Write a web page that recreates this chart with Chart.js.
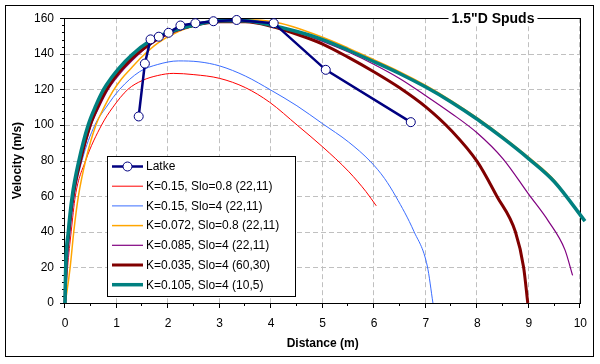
<!DOCTYPE html>
<html>
<head>
<meta charset="utf-8">
<script src="https://cdn.jsdelivr.net/npm/chart.js@4"></script>
<style>
  body { margin: 0; background: #fff; }
</style>
</head>
<body>
<canvas id="spudChart" width="600" height="364"></canvas>
<script>
// measured launches
const latkeX = [1.43, 1.55, 1.66, 1.82, 2.01, 2.24, 2.53, 2.88, 3.33, 4.05, 5.06, 6.71];
const latkeY = [104.8, 134.5, 148.1, 149.6, 151.8, 155.9, 157.2, 158.3, 159.0, 157.2, 131.0, 101.6];

// model curves
const redX = [0, 0.05, 0.12, 0.2, 0.4, 0.71, 0.93, 1.22, 1.5, 1.8, 2.1, 2.5, 3.0, 3.5, 3.97, 4.51, 5.0, 5.51, 5.84, 6.04];
const redY = [0, 20, 40, 60, 80, 100, 110, 120, 125, 127.8, 129, 128.3, 126.2, 121, 112.8, 99.8, 87.7, 73.7, 62.6, 54.6];

const blueX = [0, 0.04, 0.1, 0.18, 0.33, 0.58, 0.8, 1.06, 1.45, 1.8, 2.2, 2.6, 3.0, 3.5, 4.0, 4.5, 5.0, 5.5, 5.93, 6.2, 6.42, 6.77, 7.03, 7.14];
const blueY = [0, 20, 40, 60, 80, 100, 110, 120, 130, 134, 136, 135.5, 133.2, 127.5, 119.5, 110.8, 100.7, 90.5, 79.4, 70, 59.8, 40.3, 20.8, 0];

const orangeX = [0, 0.03, 0.1, 0.17, 0.26, 0.4, 0.6, 0.76, 0.93, 1.1, 1.27, 1.5, 1.8, 2.2, 2.7, 3.2, 3.7, 4.2, 5.0, 5.5, 6.0, 6.5, 7.0, 7.5, 8.0, 8.5, 9.0, 9.5, 10.05];
const orangeY = [0, 5, 20, 40, 60, 80, 100, 110, 119, 126, 131.5, 138.5, 146, 152.5, 157, 159, 159, 157, 149.3, 143.2, 136.6, 129.8, 122.2, 113.6, 104, 93.4, 81.8, 68.8, 47];

const purpleX = [0, 0.022, 0.08, 0.165, 0.31, 0.51, 0.67, 0.83, 1.0, 1.16, 1.42, 1.75, 2.2, 2.7, 3.2, 3.7, 4.2, 5.0, 5.5, 6.0, 6.5, 7.0, 7.5, 8.0, 8.5, 9.0, 9.38, 9.7, 9.85];
const purpleY = [0, 20, 40, 60, 80, 100, 110.5, 119.5, 126.5, 132, 139.5, 147, 153, 157, 158.5, 158, 155, 147, 141, 134, 126, 116.5, 106.5, 95.5, 81, 61, 46, 30, 15.5];

const maroonX = [0, 0.02, 0.075, 0.155, 0.3, 0.49, 0.64, 0.8, 0.96, 1.12, 1.38, 1.7, 2.0, 2.5, 3.0, 3.5, 4.0, 4.5, 5.0, 5.5, 6.0, 6.5, 7.0, 7.5, 8.0, 8.38, 8.74, 8.9, 8.98];
const maroonY = [0, 20, 40, 60, 80, 100, 110.5, 119.5, 126.5, 132, 139.5, 146.5, 151.5, 156, 158, 158, 155.5, 151, 145.5, 138, 129.8, 120.8, 110.2, 96.8, 79.4, 60, 40, 20, 0];

const tealX = [0, 0.013, 0.064, 0.14, 0.27, 0.45, 0.6, 0.75, 0.9, 1.05, 1.3, 1.64, 2.0, 2.5, 3.0, 3.5, 4.0, 4.5, 5.0, 5.5, 6.0, 6.5, 7.0, 7.5, 8.0, 8.5, 9.0, 9.5, 10.09];
const tealY = [0, 20, 40, 60, 80, 100, 111, 120, 126.5, 132, 139.5, 147, 152, 156, 158.5, 158.5, 156, 152.5, 148, 142, 135.5, 128.8, 121.3, 112.8, 103.2, 92.6, 81, 68, 46];

const seriesLabels = [
    'Latke',
    'K=0.15, Slo=0.8 (22,11)',
    'K=0.15, Slo=4 (22,11)',
    'K=0.072, Slo=0.8 (22,11)',
    'K=0.085, Slo=4 (22,11)',
    'K=0.035, Slo=4 (60,30)',
    'K=0.105, Slo=4 (10,5)'
];
const xTicks = [0, 1, 2, 3, 4, 5, 6, 7, 8, 9, 10];
const yTicks = [0, 20, 40, 60, 80, 100, 120, 140, 160];
const chartTitle = '1.5"D Spuds';

const FONT = "'Liberation Sans', Arial, sans-serif";

function toPoints(xs, ys) {
    return xs.map((x, i) => ({ x: x, y: ys[i] }));
}

function curve(label, xs, ys, color, width, order) {
    return {
        label: label,
        data: toPoints(xs, ys),
        borderColor: color,
        backgroundColor: color,
        borderWidth: width,
        pointRadius: 0,
        showLine: true,
        cubicInterpolationMode: 'monotone',
        clip: false,
        order: order
    };
}

const datasets = [
    {
        label: seriesLabels[0],
        data: toPoints(latkeX, latkeY),
        borderColor: '#000080',
        backgroundColor: '#ffffff',
        borderWidth: 2.5,
        pointRadius: 4.5,
        pointBorderWidth: 1,
        pointBorderColor: '#000080',
        pointBackgroundColor: '#ffffff',
        showLine: true,
        tension: 0,
        clip: false,
        order: 0
    },
    curve(seriesLabels[1], redX, redY, '#ff0000', 1, 6),
    curve(seriesLabels[2], blueX, blueY, '#3a6dff', 1, 5),
    curve(seriesLabels[3], orangeX, orangeY, '#ffa500', 1.5, 4),
    curve(seriesLabels[4], purpleX, purpleY, '#800080', 1.2, 3),
    curve(seriesLabels[5], maroonX, maroonY, '#800000', 3, 2),
    curve(seriesLabels[6], tealX, tealY, '#008080', 3.5, 1)
];

// white page, dashed grid, frame around plot, title on the top edge, tick marks, legend box
const decorPlugin = {
    id: 'decor',
    beforeDraw(chart) {
        const ctx = chart.ctx;
        ctx.save();
        ctx.fillStyle = '#ffffff';
        ctx.fillRect(0, 0, chart.width, chart.height);
        ctx.strokeStyle = '#000';
        ctx.lineWidth = 1;
        ctx.strokeRect(5.5, 5.5, 588, 351);
        ctx.restore();
    },
    beforeDatasetsDraw(chart) {
        const ctx = chart.ctx;
        const a = chart.chartArea;
        const xs = chart.scales.x;
        const ys = chart.scales.y;
        ctx.save();

        // dashed grid
        ctx.strokeStyle = '#c0c0c0';
        ctx.lineWidth = 1;
        ctx.setLineDash([5, 3]);
        ctx.beginPath();
        xTicks.forEach(v => {
            const px = Math.round(xs.getPixelForValue(v)) - 0.5;
            ctx.moveTo(px, a.top);
            ctx.lineTo(px, a.bottom);
        });
        yTicks.forEach(v => {
            const py = Math.round(ys.getPixelForValue(v)) + 0.5;
            ctx.moveTo(a.left, py);
            ctx.lineTo(a.right, py);
        });
        ctx.stroke();
        ctx.setLineDash([]);

        ctx.strokeStyle = '#000';
        ctx.strokeRect(Math.round(a.left) - 0.5, Math.round(a.top) + 0.5, Math.round(a.right - a.left) + 1, Math.round(a.bottom - a.top));

        ctx.beginPath();
        for (let v = 0; v <= 160; v += 4) {
            const py = Math.round(ys.getPixelForValue(v)) + 0.5;
            const len = v % 20 === 0 ? 5 : 3;
            ctx.moveTo(a.left - len, py);
            ctx.lineTo(a.left, py);
        }
        for (let v = 0; v <= 10; v += 0.5) {
            const px = Math.round(xs.getPixelForValue(v)) - 0.5;
            const len = v % 1 === 0 ? 5 : 3;
            ctx.moveTo(px, a.bottom);
            ctx.lineTo(px, a.bottom + len);
        }
        ctx.stroke();

        ctx.font = 'bold 14px ' + FONT;
        const tw = ctx.measureText(chartTitle).width;
        const cx = 493;
        ctx.fillStyle = '#fff';
        ctx.fillRect(cx - tw / 2 - 3, a.top - 8, tw + 6, 16);
        ctx.fillStyle = '#000';
        ctx.textAlign = 'center';
        ctx.textBaseline = 'middle';
        ctx.fillText(chartTitle, cx, a.top + 1);
        ctx.restore();
    },
    afterDatasetsDraw(chart) {
        const ctx = chart.ctx;
        const left = 107.5, top = 156.5, w = 188, h = 140;
        ctx.save();
        ctx.fillStyle = '#fff';
        ctx.fillRect(left, top, w, h);
        ctx.strokeStyle = '#000';
        ctx.lineWidth = 1;
        ctx.strokeRect(left, top, w, h);
        ctx.font = '12px ' + FONT;
        ctx.textBaseline = 'middle';
        ctx.textAlign = 'left';
        chart.data.datasets.forEach((ds, i) => {
            const y = 166.5 + i * 19.7;
            ctx.strokeStyle = ds.borderColor;
            ctx.lineWidth = ds.borderWidth;
            ctx.beginPath();
            ctx.moveTo(112, y);
            ctx.lineTo(143, y);
            ctx.stroke();
            if (i === 0) {
                ctx.beginPath();
                ctx.arc(127.5, y, 4.5, 0, Math.PI * 2);
                ctx.fillStyle = '#fff';
                ctx.fill();
                ctx.lineWidth = 1;
                ctx.stroke();
            }
            ctx.fillStyle = '#000';
            ctx.fillText(ds.label, 146, y + 0.5);
        });
        ctx.restore();
    }
};

const ctx = document.getElementById('spudChart').getContext('2d');
new Chart(ctx, {
    type: 'scatter',
    data: { datasets: datasets },
    options: {
        responsive: false,
        animation: false,
        devicePixelRatio: 1,
        layout: { padding: { top: 17, right: 18, left: 0, bottom: 0 } },
        plugins: {
            legend: { display: false },
            tooltip: { enabled: false }
        },
        scales: {
            x: {
                type: 'linear',
                min: 0,
                max: 10,
                afterFit(s) { s.height = 61; },
                afterBuildTicks(s) { s.ticks = xTicks.map(v => ({ value: v })); },
                ticks: { color: '#000', padding: 13, font: { family: FONT, size: 12 } },
                grid: { display: false, drawTicks: false },
                border: { display: false },
                title: {
                    display: true,
                    text: 'Distance (m)',
                    color: '#000',
                    padding: { top: 0, bottom: 13 },
                    font: { family: FONT, size: 12, weight: 'bold' }
                }
            },
            y: {
                type: 'linear',
                min: 0,
                max: 160,
                afterFit(s) { s.width = 65; },
                afterBuildTicks(s) { s.ticks = yTicks.map(v => ({ value: v })); },
                ticks: { color: '#000', padding: 11, font: { family: FONT, size: 12 } },
                grid: { display: false, drawTicks: false },
                border: { display: false },
                title: {
                    display: true,
                    text: 'Velocity (m/s)',
                    color: '#000',
                    padding: { top: 10, bottom: 0 },
                    font: { family: FONT, size: 12, weight: 'bold' }
                }
            }
        }
    },
    plugins: [decorPlugin]
});
</script>
</body>
</html>
